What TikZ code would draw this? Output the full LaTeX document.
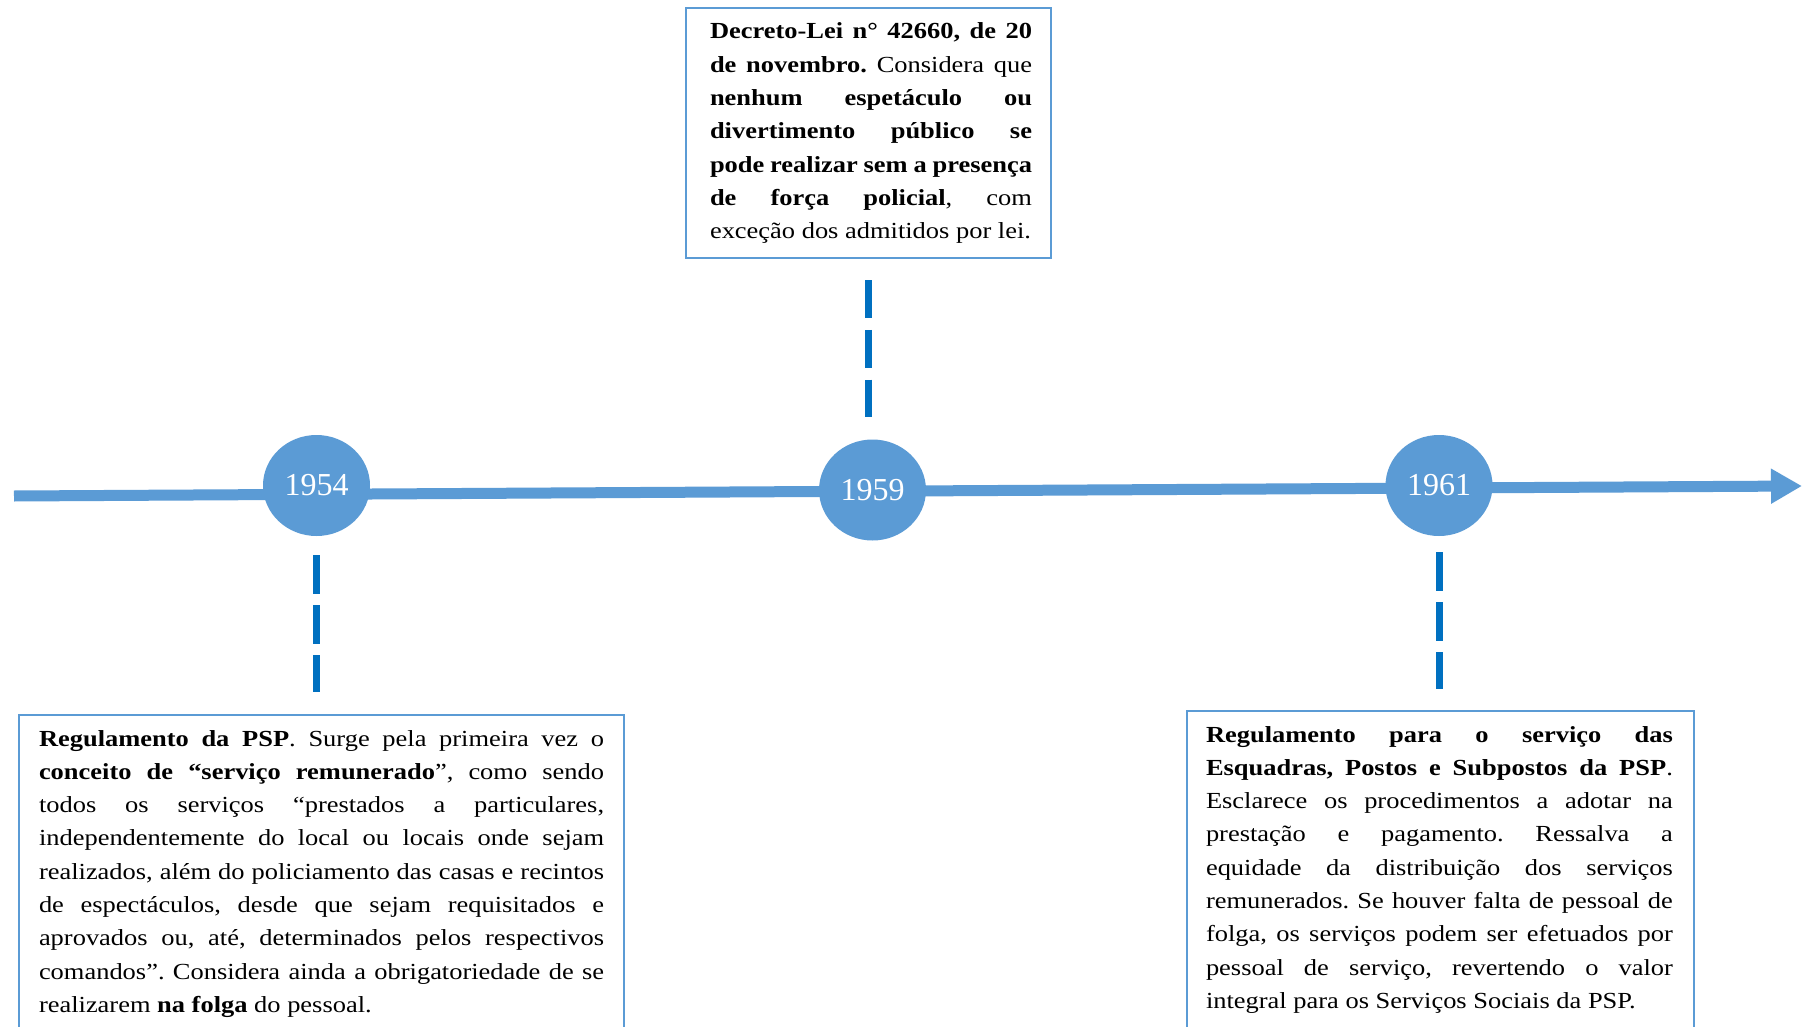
\documentclass[tikz,border=0pt]{standalone}
\usepackage{fontspec}
\setmainfont{Liberation Serif}
\usepackage{graphicx}
\usetikzlibrary{arrows.meta,shapes.geometric}
\definecolor{tlblue}{RGB}{91,155,213}
\definecolor{dashblue}{RGB}{0,112,192}
\definecolor{boxblue}{RGB}{91,155,213}
\frenchspacing
\newcommand\jl[1]{\makebox[\linewidth][s]{#1}\\}
\newcommand\boxtext[2]{\scalebox{1.15}[1]{\parbox[t]{#1}{\fontsize{11.5}{16.65}\selectfont #2}}}
\tikzset{
  timeline/.style={draw=tlblue, line width=5.5pt, -{Triangle[length=15.5pt,width=16.5pt]}},
  yearc/.style={ellipse, fill=tlblue, minimum width=53.5pt, minimum height=50.5pt, inner sep=0pt,
    text=white, font=\fontsize{16}{19}\selectfont},
  dashline/.style={draw=dashblue, line width=3.5pt, dash pattern=on 19.2pt off 5.7pt},
  tbox/.style={draw=boxblue, line width=1pt, rectangle, inner sep=0pt, anchor=base west, fill=white}
}
\begin{document}
\begin{tikzpicture}[x=0.5pt,y=-0.5pt]
\useasboundingbox (0,0) rectangle (1803,1027);
\clip (0,0) rectangle (1803,1027);
\fill[white] (0,0) rectangle (1803,1027);
% timeline
\coordinate (tlstart) at (14,496);
\coordinate (tlend) at (1802,486);
\draw[timeline] (tlstart) -- (tlend);
% years
\node[yearc] (c1954) at (316.5,485.5) {1954};
\node[yearc] (c1959) at (872.5,490) {1959};
\node[yearc] (c1961) at (1439,485.5) {1961};
% boxes
\node[tbox, text height=15.5pt, text depth=109.5pt] (b1959) at (685,39) {\hspace*{12pt}\boxtext{140pt}{%
\jl{\textbf{Decreto-Lei n° 42660, de 20}}
\jl{\textbf{de novembro.} Considera que}
\jl{\textbf{nenhum espetáculo ou}}
\jl{\textbf{divertimento público se}}
\jl{\textbf{pode realizar sem a presença}}
\jl{\textbf{de força policial}, com}
exceção dos admitidos por lei.}\hspace*{9.5pt}};
\node[tbox, text height=15.5pt, text depth=160pt] (b1954) at (18,746) {\hspace*{10pt}\boxtext{245.7pt}{%
\jl{\textbf{Regulamento da PSP}. Surge pela primeira vez o}
\jl{\textbf{conceito de “serviço remunerado}”, como sendo}
\jl{todos os serviços “prestados a particulares,}
\jl{independentemente do local ou locais onde sejam}
\jl{realizados, além do policiamento das casas e recintos}
\jl{de espectáculos, desde que sejam requisitados e}
\jl{aprovados ou, até, determinados pelos respectivos}
\jl{comandos”. Considera ainda a obrigatoriedade de se}
realizarem \textbf{na folga} do pessoal.}\hspace*{10pt}};
\node[tbox, text height=15.5pt, text depth=160pt] (b1961) at (1186,742) {\hspace*{9.5pt}\boxtext{203pt}{%
\jl{\textbf{Regulamento para o serviço das}}
\jl{\textbf{Esquadras, Postos e Subpostos da PSP}.}
\jl{Esclarece os procedimentos a adotar na}
\jl{prestação e pagamento. Ressalva a}
\jl{equidade da distribuição dos serviços}
\jl{remunerados. Se houver falta de pessoal de}
\jl{folga, os serviços podem ser efetuados por}
\jl{pessoal de serviço, revertendo o valor}
integral para os Serviços Sociais da PSP.}\hspace*{10.5pt}};
% dashed connectors
\coordinate (d54b) at (c1954.south |- b1954.north);
\coordinate (d59b) at (b1959.south |- c1959.north);
\coordinate (d61b) at (c1961.south |- b1961.north);
\draw[dashline] ([yshift=-9.5pt]c1954.south) -- ([yshift=11pt]d54b);
\draw[dashline] ([yshift=-10.5pt]b1959.south) -- ([yshift=11pt]d59b);
\draw[dashline] ([yshift=-8pt]c1961.south) -- ([yshift=10.5pt]d61b);
\end{tikzpicture}
\end{document}
